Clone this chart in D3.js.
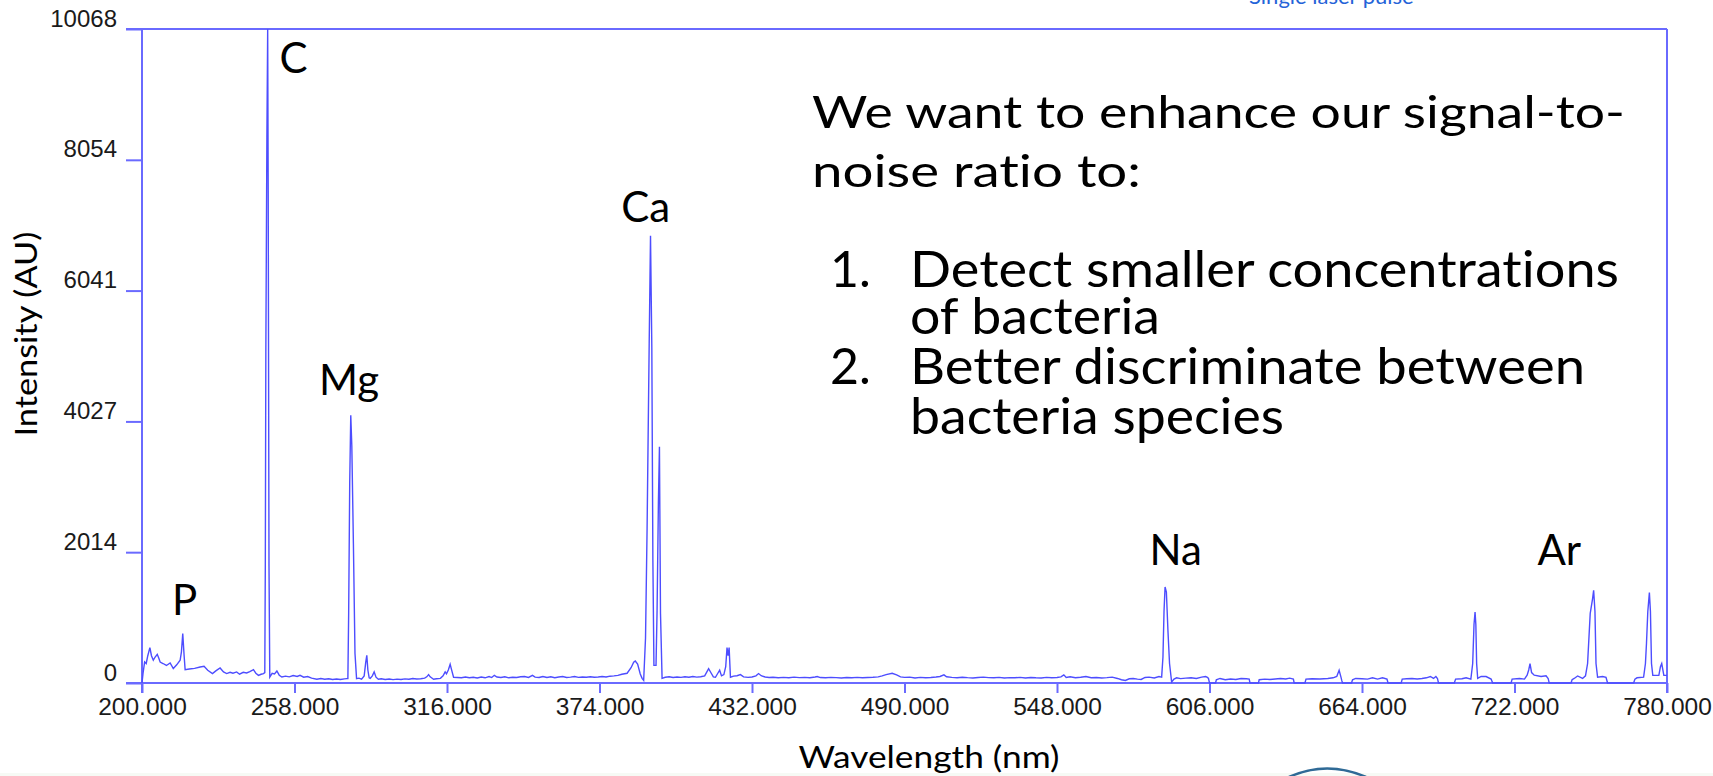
<!DOCTYPE html>
<html>
<head>
<meta charset="utf-8">
<script src="https://cdn.jsdelivr.net/npm/d3@7"></script>
<style>
  html, body { margin: 0; padding: 0; background: #ffffff; }
  svg { display: block; }
  text { font-variant-ligatures: none; }
</style>
</head>
<body>
<svg id="chart" width="1713" height="776"></svg>
<script>
// ---------------- data ----------------
const yTickValues = [0, 2014, 4027, 6041, 8054, 10068];
const xTickValues = [200, 258, 316, 374, 432, 490, 548, 606, 664, 722, 780];

const wavelengths = [
  200.0,200.4,201.0,201.6,202.2,203.0,203.6,204.3,205.0,205.8,206.4,206.9,208.0,209.3,210.7,211.9,213.2,214.5,215.0,215.5,216.0,216.4,218.0,220.0,222.1,223.6,225.0,226.8,228.2,229.7,231.0,232.2,233.5,234.6,236.0,237.1,238.5,239.8,241.0,242.4,243.3,244.3,245.3,246.2,246.7,
  246.9,247.1,247.5,247.8,248.0,248.3,248.6,
  249.5,250.4,251.3,252.2,253.2,254.6,256.0,257.5,259.0,260.1,261.5,263.0,264.5,266.5,268.0,269.5,271.0,272.5,274.0,275.5,277.0,277.9,
  278.3,278.6,279.0,279.4,279.8,280.4,281.0,281.6,
  282.5,283.5,284.5,285.1,285.5,285.9,286.4,286.8,287.6,288.3,289.0,289.9,291.0,292.5,294.0,295.5,297.0,298.5,300.0,301.5,303.0,304.5,306.0,307.5,308.3,309.0,309.6,310.9,312.0,313.5,314.5,315.3,315.8,316.5,317.2,317.7,318.5,
  320.0,321.5,323.0,324.5,326.0,327.5,329.0,330.5,332.0,333.0,334.0,335.0,336.5,338.0,339.5,341.0,342.5,344.0,345.5,347.0,348.5,349.5,351.0,352.5,354.0,355.5,357.0,358.5,360.0,361.5,363.0,364.5,366.0,367.5,369.0,370.5,372.0,373.5,375.0,376.5,378.0,379.5,381.0,382.5,384.5,386.0,387.0,387.6,388.5,389.5,
  390.2,390.8,391.5,392.1,392.9,393.4,393.9,394.3,394.7,395.5,395.9,396.4,396.8,397.2,397.8,
  399.0,400.5,402.0,403.5,405.0,406.5,408.0,409.5,411.0,412.5,414.0,415.5,416.5,417.3,418.1,419.0,419.7,420.4,421.3,422.0,422.5,422.9,423.3,423.8,425.0,426.3,427.6,428.8,430.5,432.0,433.5,434.5,435.5,437.0,438.5,440.0,442.0,444.0,446.0,448.0,450.0,452.0,454.0,456.0,456.8,458.0,460.0,462.0,464.0,466.0,468.0,470.0,472.0,474.0,476.0,478.0,480.0,481.5,483.0,485.3,487.0,488.5,490.0,492.0,494.0,496.0,498.0,500.0,502.0,503.5,505.0,506.0,508.0,510.0,512.0,514.0,516.0,518.0,520.0,522.0,524.0,526.0,528.0,530.0,532.0,534.0,536.0,538.0,540.0,542.0,544.0,546.0,548.0,549.5,550.6,551.5,553.0,555.0,557.0,559.0,561.0,563.0,565.0,567.0,569.0,571.0,572.5,574.0,575.5,577.0,578.6,580.0,581.5,583.0,585.0,586.8,587.8,
  588.3,588.7,589.1,589.6,590.2,590.8,591.6,592.5,593.5,595.0,597.0,599.0,601.0,603.0,604.5,605.2,605.6,606.0,608.3,608.6,610.0,612.0,614.0,616.0,618.0,620.0,621.1,621.4,624.6,624.9,627.0,629.0,631.0,633.0,635.0,636.5,637.9,638.2,642.3,642.7,645.0,648.0,651.0,653.0,654.4,655.3,656.0,656.3,656.6,660.0,660.4,661.6,664.0,666.1,668.0,669.9,671.8,673.5,673.9,678.9,679.3,681.0,683.0,685.0,686.8,688.5,690.0,691.2,692.1,692.7,693.1,699.1,699.6,702.0,703.6,705.4,706.1,706.6,707.0,707.3,707.6,708.0,709.3,711.2,713.1,713.7,720.7,721.1,723.9,725.8,726.8,727.4,727.9,728.5,729.5,732.1,734.0,734.8,735.2,743.5,743.9,744.7,746.0,747.9,749.0,749.8,750.8,751.7,752.1,752.6,753.0,753.6,755.5,756.8,757.4,767.3,767.8,768.6,771.1,771.8,772.2,772.7,773.3,773.7,774.1,774.6,776.9,777.5,778.0,778.8,780.0
];

const intensities = [
  0,150,323,300,420,545,420,350,400,442,380,323,300,270,308,222,280,350,480,760,430,206,215,225,246,257,195,145,190,231,170,145,165,150,170,135,165,154,175,206,150,118,135,145,160,
  1800,5100,8400,10068,7570,1800,92,
  150,140,185,120,92,105,95,115,100,118,90,100,75,57,70,58,66,55,62,55,64,68,
  68,1070,3080,4120,3650,2150,457,68,
  75,60,110,320,427,200,80,70,110,170,90,57,65,55,62,52,60,55,64,58,70,62,66,75,95,129,95,57,65,72,110,170,140,200,288,210,88,
  85,80,92,80,88,78,92,80,100,84,118,92,84,96,80,88,84,96,100,86,118,90,84,100,86,96,82,92,100,84,90,100,86,92,88,96,88,92,100,92,105,110,118,135,150,235,320,339,290,140,
  72,40,690,2380,5230,6885,5170,1890,272,272,1120,2770,3635,1070,72,
  88,96,84,92,86,96,88,100,90,96,110,222,150,95,88,150,196,110,130,250,545,420,545,88,105,112,129,95,86,92,110,145,112,92,84,88,80,86,80,90,82,86,80,92,100,84,80,86,82,78,84,80,86,80,84,88,95,110,130,150,125,95,86,90,78,86,80,84,92,100,125,96,86,80,88,82,78,84,90,82,80,86,78,82,80,86,78,84,80,78,86,80,84,95,125,86,96,80,88,100,80,84,78,82,90,70,50,40,65,70,60,55,85,90,78,100,90,
  400,1100,1478,1400,800,300,15,60,80,68,75,80,70,90,100,88,70,0,0,50,70,50,62,55,70,65,60,0,0,50,60,55,62,70,62,75,60,0,0,60,65,62,70,80,100,196,90,40,0,0,50,70,65,60,80,60,80,60,0,0,60,65,70,62,70,80,100,70,100,70,0,0,60,65,80,60,300,900,1093,900,300,70,100,100,60,0,0,60,70,60,120,200,299,160,120,100,110,70,0,0,50,70,108,70,110,300,1073,1300,1428,1100,300,88,100,88,0,0,60,80,90,300,611,1100,1392,1100,300,118,118,250,299,118,118
];

const peakLabels = ["P", "C", "Mg", "Ca", "Na", "Ar"];
const peakLabelNm = [211.4, 252.3, 267.3, 382.3, 583.2, 730.7];
const peakLabelValue = [1047, 9390, 4433, 7097, 1811, 1811];

const bodyLines = [
  "We want to enhance our signal-to-",
  "noise ratio to:"
];
const listNumbers = ["1.", "", "2.", ""];
const listLines = [
  "Detect smaller concentrations",
  "of bacteria",
  "Better discriminate between",
  "bacteria species"
];

const xTitle = "Wavelength (nm)";
const yTitle = "Intensity (AU)";
const cornerNote = "Single laser pulse";

// ---------------- drawing ----------------
const svg = d3.select("#chart");
const frameColor = "#6a6aff";
const lineColor = "#4d4dff";

const plotLeft = 142, plotRight = 1667, plotTop = 29, plotBottom = 683;

const x = d3.scaleLinear().domain([200, 780]).range([plotLeft, plotRight]);
const y = d3.scaleLinear().domain([0, 10068]).range([plotBottom, plotTop]);

// faint slide strip at the very bottom
svg.append("rect").attr("x", 0).attr("y", 773).attr("width", 1713).attr("height", 3).attr("fill", "#f6faf5");

// x axis
const xAxis = d3.axisBottom(x)
  .tickValues(xTickValues)
  .tickFormat(d3.format(".3f"))
  .tickSize(10)
  .tickSizeOuter(0)
  .tickPadding(5);
const gx = svg.append("g").attr("transform", `translate(0,${plotBottom})`).call(xAxis);
gx.select(".domain").remove();
gx.selectAll(".tick line").attr("stroke", frameColor).attr("stroke-width", 2);
gx.selectAll(".tick text")
  .attr("fill", "#1a1a1a")
  .style("font-family", "'Liberation Sans', Arial, sans-serif")
  .style("font-size", "24.5px");

// y axis
const yAxis = d3.axisLeft(y)
  .tickValues(yTickValues)
  .tickFormat(d3.format("d"))
  .tickSize(16)
  .tickSizeOuter(0)
  .tickPadding(9);
const gy = svg.append("g").attr("transform", `translate(${plotLeft},0)`).call(yAxis);
gy.select(".domain").remove();
gy.selectAll(".tick line").attr("stroke", frameColor).attr("stroke-width", 2);
gy.selectAll(".tick text")
  .attr("fill", "#1a1a1a")
  .attr("dy", "-0.12em")
  .style("font-family", "'Liberation Sans', Arial, sans-serif")
  .style("font-size", "24px");

// frame lines (axis lines + top / right border)
const frame = svg.append("g").attr("stroke", frameColor).attr("stroke-width", 2).attr("fill", "none");
frame.append("line").attr("x1", x(200) - 16).attr("x2", x(780)).attr("y1", y(0)).attr("y2", y(0));
frame.append("line").attr("x1", x(200) - 16).attr("x2", x(780)).attr("y1", y(10068)).attr("y2", y(10068));
frame.append("line").attr("x1", x(200)).attr("x2", x(200)).attr("y1", y(10068)).attr("y2", y(0) + 10);
frame.append("line").attr("x1", x(780)).attr("x2", x(780)).attr("y1", y(10068)).attr("y2", y(0) + 10);

// spectrum
const spectrum = wavelengths.map((w, i) => ({ w, v: intensities[i] }));
const line = d3.line().x(d => x(d.w)).y(d => y(d.v));
svg.append("path")
  .datum(spectrum)
  .attr("d", line)
  .attr("fill", "none")
  .attr("stroke", lineColor)
  .attr("stroke-width", 1.4)
  .attr("stroke-linejoin", "miter");

// element labels
const slideFont = "Lato, 'Open Sans', sans-serif";
svg.append("g").selectAll("text")
  .data(peakLabels)
  .join("text")
  .attr("x", (d, i) => x(peakLabelNm[i]))
  .attr("y", (d, i) => y(peakLabelValue[i]))
  .attr("fill", "#000")
  .style("font-family", slideFont)
  .style("font-size", "42px")
  .text(d => d);

// body text (widths fitted to the slide's original typeface)
const body = svg.append("g").style("font-family", slideFont).attr("fill", "#000");
const bodyBaselines = [128, 187];
const bodyWidths = [813, 329];
bodyLines.forEach((t, i) => {
  body.append("text").attr("x", 812).attr("y", bodyBaselines[i])
    .style("font-size", "44px")
    .attr("textLength", bodyWidths[i]).attr("lengthAdjust", "spacingAndGlyphs")
    .text(t);
});
const listBaselines = [287, 334, 384, 434];
const listWidths = [709, 250, 675, 374];
listLines.forEach((t, i) => {
  if (listNumbers[i]) body.append("text").attr("x", 830).attr("y", listBaselines[i])
    .style("font-size", "50px").text(listNumbers[i]);
  body.append("text").attr("x", 910).attr("y", listBaselines[i])
    .style("font-size", "50px")
    .attr("textLength", listWidths[i]).attr("lengthAdjust", "spacingAndGlyphs")
    .text(t);
});

// axis titles
svg.append("text")
  .attr("x", 929).attr("y", 768)
  .attr("text-anchor", "middle")
  .style("font-family", slideFont).style("font-size", "31px")
  .attr("textLength", 261).attr("lengthAdjust", "spacingAndGlyphs")
  .attr("fill", "#000")
  .text(xTitle);
svg.append("text")
  .attr("transform", "translate(37,334) rotate(-90)")
  .attr("text-anchor", "middle")
  .style("font-family", slideFont).style("font-size", "31px")
  .attr("textLength", 205).attr("lengthAdjust", "spacingAndGlyphs")
  .attr("fill", "#000")
  .text(yTitle);

// clipped note at the top right
svg.append("text")
  .attr("x", 1249).attr("y", 4)
  .style("font-family", slideFont).style("font-size", "22px")
  .attr("fill", "#2463d8")
  .text(cornerNote);

// logo fragment at the bottom
svg.append("path")
  .attr("d", "M1289,777 Q1327,760 1366,777")
  .attr("fill", "none")
  .attr("stroke", "#2f6a96")
  .attr("stroke-width", 2.5);
</script>
</body>
</html>
